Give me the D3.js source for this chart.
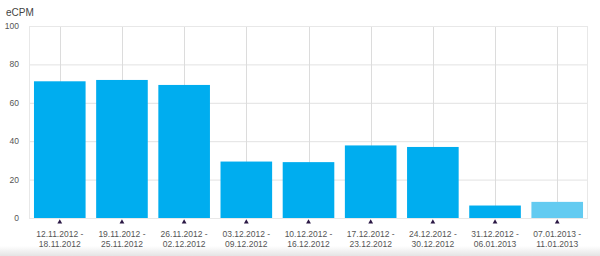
<!DOCTYPE html>
<html>
<head>
<meta charset="utf-8">
<script src="https://cdn.jsdelivr.net/npm/d3@7"></script>
<style>
  body { margin: 0; background: #fff; }
  svg { display: block; font-family: "Liberation Sans", Arial, sans-serif; }
</style>
</head>
<body>
<script>
const width = 600, height = 256;
const margin = { top: 26, right: 12, bottom: 38, left: 29 };

// data
const weeksFrom = ["12.11.2012", "19.11.2012", "26.11.2012", "03.12.2012", "10.12.2012",
                   "17.12.2012", "24.12.2012", "31.12.2012", "07.01.2013"];
const weeksTo = ["18.11.2012", "25.11.2012", "02.12.2012", "09.12.2012", "16.12.2012",
                 "23.12.2012", "30.12.2012", "06.01.2013", "11.01.2013"];
const ecpm = [71.2, 71.9, 69.3, 29.4, 29.1, 37.8, 37.0, 6.5, 8.4];
const yTicks = [0, 20, 40, 60, 80, 100];

const svg = d3.select("body").append("svg")
    .attr("width", width)
    .attr("height", height);

const defs = svg.append("defs");
const grad = defs.append("linearGradient")
    .attr("id", "shade").attr("x1", 0).attr("y1", 0).attr("x2", 0).attr("y2", 1);
grad.append("stop").attr("offset", 0).attr("stop-color", "#fff");
grad.append("stop").attr("offset", 1).attr("stop-color", "#e4e4e4");
svg.append("rect")
    .attr("x", 0).attr("y", height - 10)
    .attr("width", width).attr("height", 10)
    .attr("fill", "url(#shade)");

const x = d3.scaleBand()
    .domain(weeksFrom)
    .range([margin.left, width - margin.right])
    .paddingInner(0.17)
    .paddingOuter(0.08);

const y = d3.scaleLinear()
    .domain([0, 100])
    .range([height - margin.bottom, margin.top]);

// grid
svg.append("g").selectAll("line.h")
    .data(yTicks)
    .join("line")
    .attr("x1", margin.left).attr("x2", width - margin.right)
    .attr("y1", d => y(d) + 0.5).attr("y2", d => y(d) + 0.5)
    .attr("stroke", "#e2e2e2");

svg.append("g").selectAll("line.v")
    .data(weeksFrom)
    .join("line")
    .attr("x1", d => Math.round(x(d) + x.bandwidth() / 2) + 0.5)
    .attr("x2", d => Math.round(x(d) + x.bandwidth() / 2) + 0.5)
    .attr("y1", y(100)).attr("y2", y(0))
    .attr("stroke", "#dcdcdc");

svg.append("rect")
    .attr("x", margin.left + 0.5).attr("y", y(100) + 0.5)
    .attr("width", width - margin.right - margin.left - 1)
    .attr("height", y(0) - y(100))
    .attr("fill", "none")
    .attr("stroke", "#e8e8e8");

// bars
svg.append("g").selectAll("rect")
    .data(ecpm)
    .join("rect")
    .attr("x", (d, i) => x(weeksFrom[i]))
    .attr("y", d => y(d))
    .attr("width", x.bandwidth())
    .attr("height", d => y(0) - y(d))
    .attr("fill", (d, i) => i === ecpm.length - 1 ? "#63cbf1" : "#00adef");

// y axis labels
svg.append("g").selectAll("text")
    .data(yTicks)
    .join("text")
    .attr("x", 19)
    .attr("y", d => y(d) + 3)
    .attr("text-anchor", "end")
    .attr("font-size", 8.5)
    .attr("fill", "#555")
    .text(d => d);

svg.append("text")
    .attr("x", 6).attr("y", 16)
    .attr("font-size", 10)
    .attr("fill", "#444")
    .text("eCPM");

// small markers under bars
const tri = d3.symbol().type(d3.symbolTriangle).size(10);
svg.append("g").selectAll("path")
    .data(weeksFrom)
    .join("path")
    .attr("d", tri)
    .attr("transform", d => "translate(" + (x(d) + x.bandwidth() / 2) + "," + (y(0) + 4) + ")")
    .attr("fill", "#2b1845");

// x labels
const xl = svg.append("g").selectAll("text")
    .data(weeksFrom)
    .join("text")
    .attr("text-anchor", "middle")
    .attr("font-size", 8.5)
    .attr("fill", "#555");
xl.append("tspan")
    .attr("x", d => x(d) + x.bandwidth() / 2)
    .attr("y", y(0) + 19)
    .text(d => d + " -");
xl.append("tspan")
    .attr("x", d => x(d) + x.bandwidth() / 2)
    .attr("y", y(0) + 29)
    .text((d, i) => weeksTo[i]);
</script>
</body>
</html>
